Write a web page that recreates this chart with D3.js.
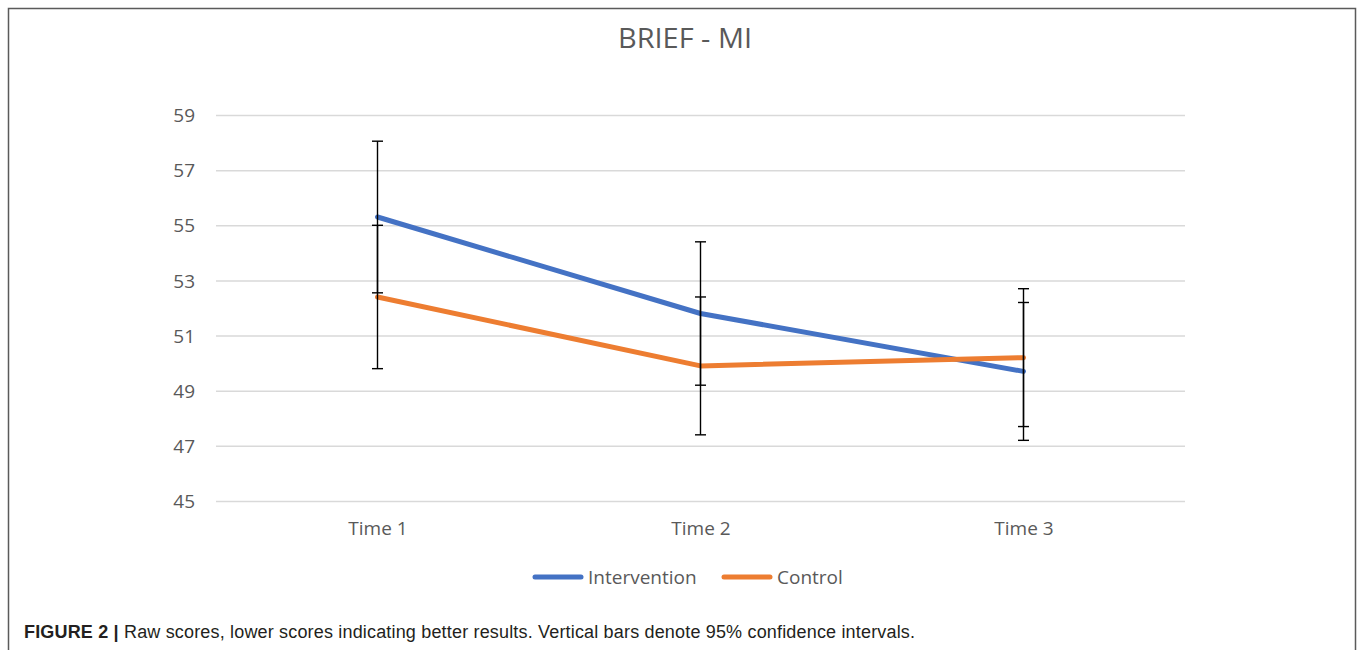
<!DOCTYPE html>
<html lang="en">
<head>
<meta charset="UTF-8">
<title>BRIEF - MI</title>
<script src="https://d3js.org/d3.v7.min.js"></script>
<style>
    body { margin: 0; background: #fff; }
    svg { display: block; }
    .tick-label { font-family: "Open Sans", "Noto Sans", sans-serif; font-size: 19px; fill: #595959; }
    .caption { font-family: "Liberation Sans", Arial, sans-serif; font-size: 18px; fill: #231f20; }
</style>
</head>
<body>
<div id="chart"></div>
<script>
    // Data
    const times = ["Time 1", "Time 2", "Time 3"];
    const interventionMean = [55.3, 51.8, 49.7];
    const interventionLow = [52.55, 49.2, 47.2];
    const interventionHigh = [58.05, 54.4, 52.2];
    const controlMean = [52.4, 49.9, 50.2];
    const controlLow = [49.8, 47.4, 47.7];
    const controlHigh = [55.0, 52.4, 52.7];
    const yTicks = [45, 47, 49, 51, 53, 55, 57, 59];

    const width = 1358, height = 650;
    const plot = { left: 216, right: 1185, top: 115, bottom: 501 };

    const svg = d3.select("#chart").append("svg")
        .attr("width", width)
        .attr("height", height);

    // outer frame (open at the bottom)
    svg.append("path")
        .attr("d", `M8.5,${height + 2} L8.5,8.5 L1355.5,8.5 L1355.5,${height + 2}`)
        .attr("fill", "none")
        .attr("stroke", "#5a5a5a")
        .attr("stroke-width", 1.5);

    const x = d3.scalePoint()
        .domain(times)
        .range([plot.left, plot.right])
        .padding(0.5);

    const y = d3.scaleLinear()
        .domain([45, 59])
        .range([plot.bottom, plot.top]);

    // title
    svg.append("text")
        .attr("x", 685)
        .attr("y", 48)
        .attr("text-anchor", "middle")
        .attr("font-family", "'Open Sans', 'Noto Sans', sans-serif")
        .attr("font-size", 27)
        .attr("fill", "#595959")
        .attr("textLength", 134)
        .attr("lengthAdjust", "spacingAndGlyphs")
        .text("BRIEF - MI");

    // gridlines + y labels
    const yAxis = d3.axisLeft(y)
        .tickValues(yTicks)
        .tickSize(-(plot.right - plot.left))
        .tickPadding(21);

    const gy = svg.append("g")
        .attr("transform", `translate(${plot.left},0)`)
        .call(yAxis);
    gy.select(".domain").remove();
    gy.selectAll(".tick line").attr("stroke", "#d9d9d9").attr("stroke-width", 1.5);
    gy.selectAll(".tick text").attr("class", "tick-label").attr("dy", "0.35em");

    // x labels
    const xAxis = d3.axisBottom(x).tickSize(0).tickPadding(21);
    const gx = svg.append("g")
        .attr("transform", `translate(0,${plot.bottom})`)
        .call(xAxis);
    gx.select(".domain").remove();
    gx.selectAll(".tick text").attr("class", "tick-label");

    const series = [
        { name: "Intervention", color: "#4472c4", mean: interventionMean, low: interventionLow, high: interventionHigh },
        { name: "Control", color: "#ed7d31", mean: controlMean, low: controlLow, high: controlHigh }
    ];

    const line = d3.line()
        .x((d, i) => x(times[i]))
        .y(d => y(d));

    // lines
    series.forEach(s => {
        svg.append("path")
            .datum(s.mean)
            .attr("d", line)
            .attr("fill", "none")
            .attr("stroke", s.color)
            .attr("stroke-width", 5)
            .attr("stroke-linejoin", "round")
            .attr("stroke-linecap", "round");
    });

    // error bars
    const capW = 5.5;
    series.forEach(s => {
        const g = svg.append("g").attr("stroke", "#000").attr("stroke-width", 1.4);
        times.forEach((t, i) => {
            const cx = x(t);
            g.append("line")
                .attr("x1", cx).attr("x2", cx)
                .attr("y1", y(s.low[i])).attr("y2", y(s.high[i]));
            [s.low[i], s.high[i]].forEach(v => {
                g.append("line")
                    .attr("x1", cx - capW).attr("x2", cx + capW)
                    .attr("y1", y(v)).attr("y2", y(v));
            });
        });
    });

    // legend
    const legend = [
        { name: "Intervention", color: "#4472c4", x: 535 },
        { name: "Control", color: "#ed7d31", x: 724 }
    ];
    legend.forEach(l => {
        svg.append("line")
            .attr("x1", l.x).attr("x2", l.x + 46)
            .attr("y1", 577).attr("y2", 577)
            .attr("stroke", l.color)
            .attr("stroke-width", 5)
            .attr("stroke-linecap", "round");
        svg.append("text")
            .attr("class", "tick-label")
            .attr("x", l.x + 53)
            .attr("y", 584)
            .text(l.name);
    });

    // caption
    const cap = svg.append("text")
        .attr("class", "caption")
        .attr("x", 24)
        .attr("y", 638)
        .attr("textLength", 891)
        .attr("lengthAdjust", "spacing");
    cap.append("tspan").attr("font-weight", "bold").text("FIGURE 2 | ");
    cap.append("tspan").text("Raw scores, lower scores indicating better results. Vertical bars denote 95% confidence intervals.");
</script>
</body>
</html>
